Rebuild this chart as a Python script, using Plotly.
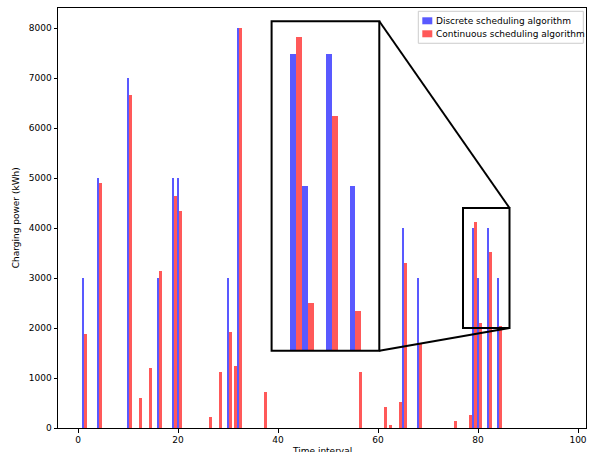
import plotly.graph_objects as go

# ---- data ----
disc_t = [1, 4, 10, 16, 19, 20, 30, 32, 65, 68, 79, 80, 82, 84]
disc_v = [3000, 5000, 7000, 3000, 5000, 5000, 3000, 8000, 4000, 3000, 4000, 3000, 4000, 3000]

cont_t = [1, 4, 10, 12, 14, 16, 19, 20, 26, 28, 30, 31, 32, 37, 56, 61, 62, 64, 65, 68, 75, 78, 79, 80, 82, 84]
cont_v = [1880, 4900, 6670, 600, 1200, 3140, 4650, 4350, 220, 1130, 1920, 1240, 8000, 720, 1120, 420, 60, 520,
          3300, 1700, 150, 270, 4130, 2110, 3530, 2050]

x_ticks = [0, 20, 40, 60, 80, 100]
y_ticks = [0, 1000, 2000, 3000, 4000, 5000, 6000, 7000, 8000]

series_names = ["Discrete scheduling algorithm", "Continuous scheduling algorithm"]

# ---- layout constants ----
W, H = 596, 452
ML, MR, MT, MB = 57.7, 10.3, 7.7, 24
XR = [-4.0, 101.6]
YR = [0, 8400]
zoom_x = [77.0, 86.3]
zoom_y = [2000, 4400]
inset_xr = [77.2, 86.3]
inset_yr = [1750, 4250]

pw = W - ML - MR
ph = H - MT - MB
inset_px = [271.3, 379.0]   # left/right pixel
inset_py = [350.7, 21.0]    # bottom/top pixel


def fx(p):  # pixel x -> paper
    return (p - ML) / pw


def fy(p):  # pixel y -> paper
    return (H - MB - p) / ph


ins_dx = [fx(p) for p in inset_px]
ins_dy = [fy(p) for p in inset_py]

BLUE = "rgba(0,0,255,0.65)"
RED = "rgba(255,0,0,0.65)"
COLORS = [BLUE, RED]
FONT = dict(family="DejaVu Sans", size=9, color="black")

fig = go.Figure()
for ax in ["", "2"]:
    fig.add_trace(go.Bar(x=disc_t, y=disc_v, width=0.5, offset=-0.25, marker=dict(color=BLUE, line=dict(width=0)),
                         name=series_names[0], showlegend=False,
                         xaxis="x" + ax, yaxis="y" + ax))
    fig.add_trace(go.Bar(x=cont_t, y=cont_v, width=0.5, offset=0.25, marker=dict(color=RED, line=dict(width=0)),
                         name=series_names[1], showlegend=False,
                         xaxis="x" + ax, yaxis="y" + ax))

axis_common = dict(showline=True, mirror=True, linecolor="black", linewidth=1, ticks="outside",
                   ticklen=3.5, tickwidth=1, tickcolor="black", showgrid=False, zeroline=False,
                   tickfont=FONT)


def px(x):
    return (x - XR[0]) / (XR[1] - XR[0])


def py(y):
    return (y - YR[0]) / (YR[1] - YR[0])


shapes = [
    dict(type="rect", xref="x", yref="y", x0=zoom_x[0], x1=zoom_x[1], y0=zoom_y[0], y1=zoom_y[1],
         line=dict(color="black", width=2)),
    dict(type="line", xref="paper", yref="paper", x0=px(zoom_x[1]), y0=py(zoom_y[1]),
         x1=ins_dx[1], y1=ins_dy[1], line=dict(color="black", width=2)),
    dict(type="line", xref="paper", yref="paper", x0=px(zoom_x[1]), y0=py(zoom_y[0]),
         x1=ins_dx[1], y1=ins_dy[0], line=dict(color="black", width=2)),
    dict(type="rect", xref="paper", yref="paper", x0=ins_dx[0], x1=ins_dx[1], y0=ins_dy[0], y1=ins_dy[1],
         line=dict(color="black", width=2)),
    # legend frame
    dict(type="rect", xref="paper", yref="paper", x0=fx(418), x1=fx(583), y0=fy(43), y1=fy(11),
         line=dict(color="#cccccc", width=1), fillcolor="rgba(255,255,255,0.8)"),
]

annotations = [
    dict(text="Time interval", xref="paper", yref="paper", x=0.5, y=fy(451),
         showarrow=False, font=FONT, xanchor="center", yanchor="middle"),
    dict(text="Charging power (kWh)", xref="paper", yref="paper", x=fx(16), y=0.5,
         textangle=-90, showarrow=False, font=FONT, xanchor="center", yanchor="middle"),
]

row_y = [20.5, 33.5]
for name, col, ry in zip(series_names, COLORS, row_y):
    shapes.append(dict(type="rect", xref="paper", yref="paper", x0=fx(422), x1=fx(432),
                       y0=fy(ry + 3.5), y1=fy(ry - 3.5), line=dict(width=0), fillcolor=col))
    annotations.append(dict(text=name, xref="paper", yref="paper", x=fx(434), y=fy(ry),
                            showarrow=False, font=FONT, xanchor="left", yanchor="middle"))

fig.update_layout(
    width=W, height=H,
    margin=dict(l=ML, r=MR, t=MT, b=MB, autoexpand=False),
    paper_bgcolor="white", plot_bgcolor="white",
    barmode="overlay", bargap=0,
    font=FONT,
    showlegend=False,
    xaxis=dict(range=XR, tickvals=x_ticks, **axis_common),
    yaxis=dict(range=YR, tickvals=y_ticks, **axis_common),
    xaxis2=dict(domain=ins_dx, range=inset_xr, anchor="y2", showticklabels=False, ticks="",
                showline=False, showgrid=False, zeroline=False),
    yaxis2=dict(domain=ins_dy, range=inset_yr, anchor="x2", showticklabels=False, ticks="",
                showline=False, showgrid=False, zeroline=False),
    shapes=shapes,
    annotations=annotations,
)

fig.write_html("out.html", config={"displayModeBar": False},
               post_script="document.body.style.margin='0';")
